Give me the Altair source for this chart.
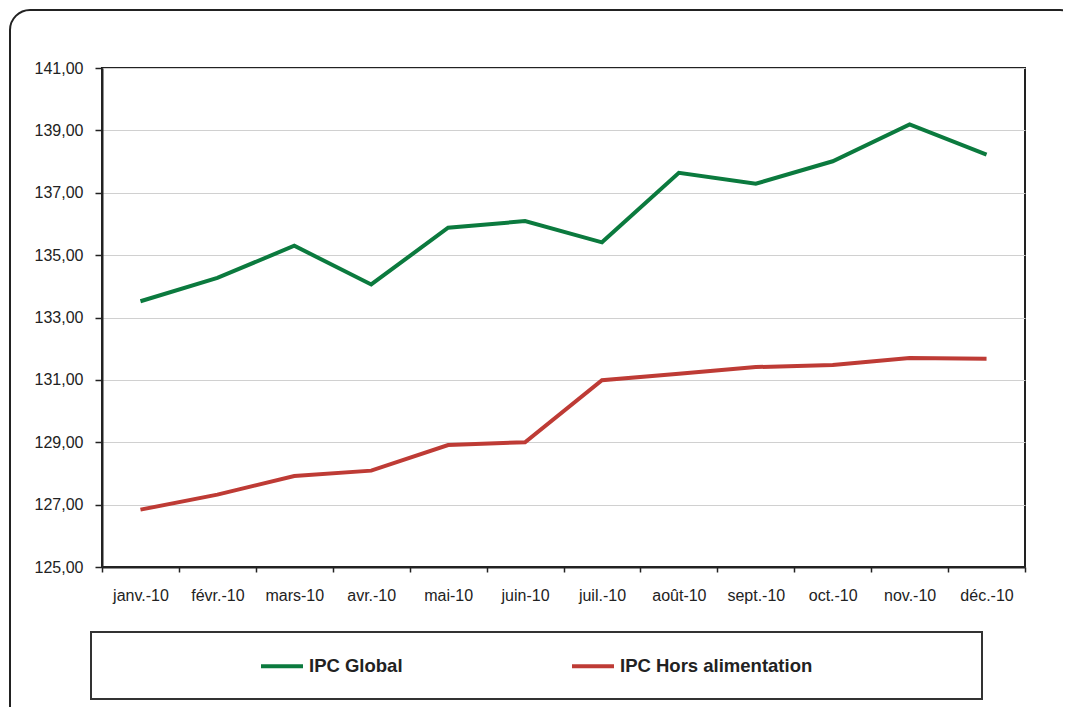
import altair as alt
import pandas as pd

months = ["janv.-10", "févr.-10", "mars-10", "avr.-10", "mai-10", "juin-10",
          "juil.-10", "août-10", "sept.-10", "oct.-10", "nov.-10", "déc.-10"]
ipc_global = [133.52, 134.27, 135.30, 134.06, 135.88, 136.09,
              135.41, 137.64, 137.29, 138.01, 139.19, 138.22]
ipc_hors = [126.84, 127.32, 127.92, 128.09, 128.91, 129.00,
            130.99, 131.20, 131.41, 131.48, 131.70, 131.68]
series_names = ["IPC Global", "IPC Hors alimentation"]
series_colors = ["#0B7A3E", "#BE3B35"]
y_ticks = [125, 127, 129, 131, 133, 135, 137, 139, 141]

rows = []
for name, vals in zip(series_names, [ipc_global, ipc_hors]):
    for m, v in zip(months, vals):
        rows.append({"mois": m, "valeur": v, "serie": name})
df = pd.DataFrame(rows)

FONT = "Liberation Sans"
one = pd.DataFrame({"k": [0]})

outer = alt.Chart(one).mark_rect(
    cornerRadius=20, fillOpacity=0, stroke="#222222", strokeWidth=2
).encode(
    x=alt.value(-92), x2=alt.value(978), y=alt.value(-58), y2=alt.value(662)
)

legend_box = alt.Chart(one).mark_rect(
    fill="white", stroke="#333333", strokeWidth=2
).encode(
    x=alt.value(-11), x2=alt.value(880), y=alt.value(564), y2=alt.value(631)
)

lines = alt.Chart(df).mark_line(strokeWidth=4).encode(
    x=alt.X("mois:N", sort=months, bandPosition=0.5,
            scale=alt.Scale(type="band", paddingInner=0, paddingOuter=0),
            axis=alt.Axis(title=None, labelAngle=0, labelFontSize=16, labelFont=FONT,
                          labelColor="#222222", tickSize=5, tickColor="#222222",
                          tickWidth=1.5, tickBand="extent", labelPadding=15,
                          domainColor="#222222", domainWidth=2, grid=False)),
    y=alt.Y("valeur:Q",
            scale=alt.Scale(domain=[125, 141], nice=False, zero=False),
            axis=alt.Axis(title=None, values=y_ticks,
                          labelExpr="replace(format(datum.value, '.2f'), '.', ',')",
                          labelFontSize=16, labelFont=FONT, labelColor="#222222",
                          tickSize=7, tickColor="#222222", tickWidth=1.5,
                          labelPadding=12, domainColor="#222222", domainWidth=2,
                          grid=True, gridColor="#D0D0D0", gridWidth=1)),
    color=alt.Color("serie:N",
                    scale=alt.Scale(domain=series_names, range=series_colors),
                    legend=alt.Legend(title=None, orient="none", legendX=157, legendY=575,
                                      direction="horizontal", symbolType="stroke",
                                      symbolSize=1764, symbolStrokeWidth=4,
                                      labelFont=FONT, labelFontSize=18.5,
                                      labelFontWeight="bold", labelColor="#222222",
                                      labelLimit=400,
                                      labelOffset=4, columnPadding=161, padding=0)),
    order=alt.Order("mois_idx:Q")
).transform_calculate(
    mois_idx="indexof(" + str(months).replace("'", '"') + ", datum.mois)"
)

chart = alt.layer(outer, legend_box, lines).properties(
    width=923, height=499,
    autosize=alt.AutoSizeParams(type="none"),
    padding={"left": 94, "top": 60, "right": 38, "bottom": 140},
    background="white"
).configure_view(
    stroke="#222222", strokeWidth=2
)

chart.save("out.html", embed_options={"renderer": "svg", "actions": False})
